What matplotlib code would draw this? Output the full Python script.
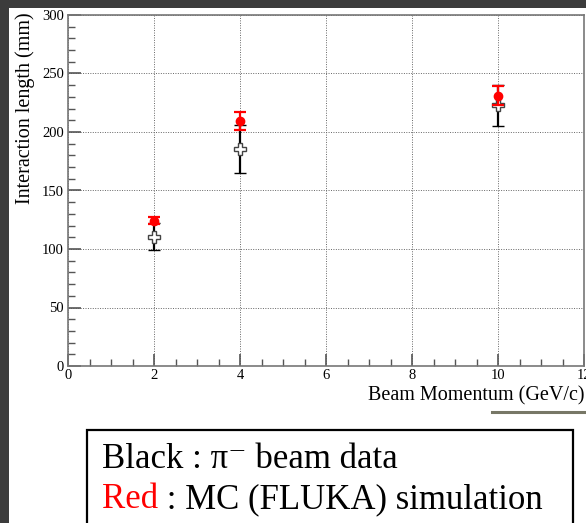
import matplotlib
matplotlib.use("Agg")
import matplotlib.pyplot as plt
from matplotlib.patches import Rectangle
from matplotlib.lines import Line2D
from matplotlib.ticker import MultipleLocator

# Data
momentum = [2, 4, 10]
data_len = [110.5, 185.5, 223.0]
data_err = [11.5, 20.5, 17.5]
mc_len = [124.0, 209.5, 231.0]
mc_err = [3.0, 8.0, 8.0]

x_ticks = [0, 2, 4, 6, 8, 10, 12]
y_ticks = [0, 50, 100, 150, 200, 250, 300]

W, H = 586, 523
fig = plt.figure(figsize=(W / 100, H / 100), dpi=100)
fig.patch.set_facecolor("#3c3c3c")
fig.patches.append(Rectangle((9 / W, 0), 1, 1 - 8 / H, transform=fig.transFigure,
                             facecolor="white", edgecolor="none", zorder=-5))

serif = ["Liberation Serif", "DejaVu Serif"]
plt.rcParams["font.family"] = serif

ax = fig.add_axes([68 / W, (H - 366) / H, (584 - 68) / W, (366 - 15) / H])
ax.set_zorder(1)
ax.set_xlim(0, 12)
ax.set_ylim(0, 300)
ax.set_xticks(x_ticks)
ax.set_yticks(y_ticks)
ax.xaxis.set_minor_locator(MultipleLocator(0.5))
ax.yaxis.set_minor_locator(MultipleLocator(10))
ax.tick_params(which="both", direction="in", top=False, right=False, color="#555555")
ax.tick_params(which="major", length=9, width=1.2, labelsize=10.5)
ax.tick_params(axis="x", which="major", pad=2)
ax.tick_params(axis="y", which="major", pad=3)
ax.tick_params(which="minor", length=5, width=1.0)
ax.grid(True, which="major", linestyle=(0, (1, 1.5)), color="#666666", linewidth=0.7)
for s in ax.spines.values():
    s.set_color("#777777")
    s.set_linewidth(1.2)

ax.errorbar(momentum, data_len, yerr=data_err, fmt="P", color="black", mfc="white",
            mec="#444444", ms=8, mew=1.0, ecolor="black", elinewidth=1.6, capsize=4,
            capthick=1.6, zorder=3)
ax.errorbar(momentum, mc_len, yerr=mc_err, fmt="o", color="red", mfc="red", mec="red",
            ms=6, ecolor="red", elinewidth=1.6, capsize=4, capthick=1.6, zorder=4)

fig.text(25 / W, (H - 12) / H, "Interaction length (mm)", rotation=90, ha="center",
         va="top", fontsize=14.5)
fig.text(585 / W, (H - 400) / H, "Beam Momentum (GeV/c)", ha="right", va="baseline",
         fontsize=14.5)
fig.add_artist(Line2D([492 / W, 1], [(H - 412) / H] * 2, color="#777766", lw=2.2))

# Legend box
fig.patches.append(Rectangle((87 / W, -0.05), (573 - 87) / W, (H - 430) / H + 0.05,
                             transform=fig.transFigure, facecolor="white",
                             edgecolor="black", linewidth=1.6, zorder=2))
fig.text(102 / W, (H - 468) / H, "Black : π⁻ beam data", fontsize=25, va="baseline",
         color="black", family=serif, zorder=3)
t1 = fig.text(102 / W, (H - 508) / H, "Red", fontsize=25, va="baseline", color="red",
              family=serif, zorder=3)
fig.add_artist(plt.Annotation(" : MC (FLUKA) simulation", xy=(1, 0), xycoords=t1,
                              ha="left", va="bottom", fontsize=25, color="black",
                              family=serif, zorder=3))

fig.savefig("out.png", dpi=100, facecolor=fig.get_facecolor())
